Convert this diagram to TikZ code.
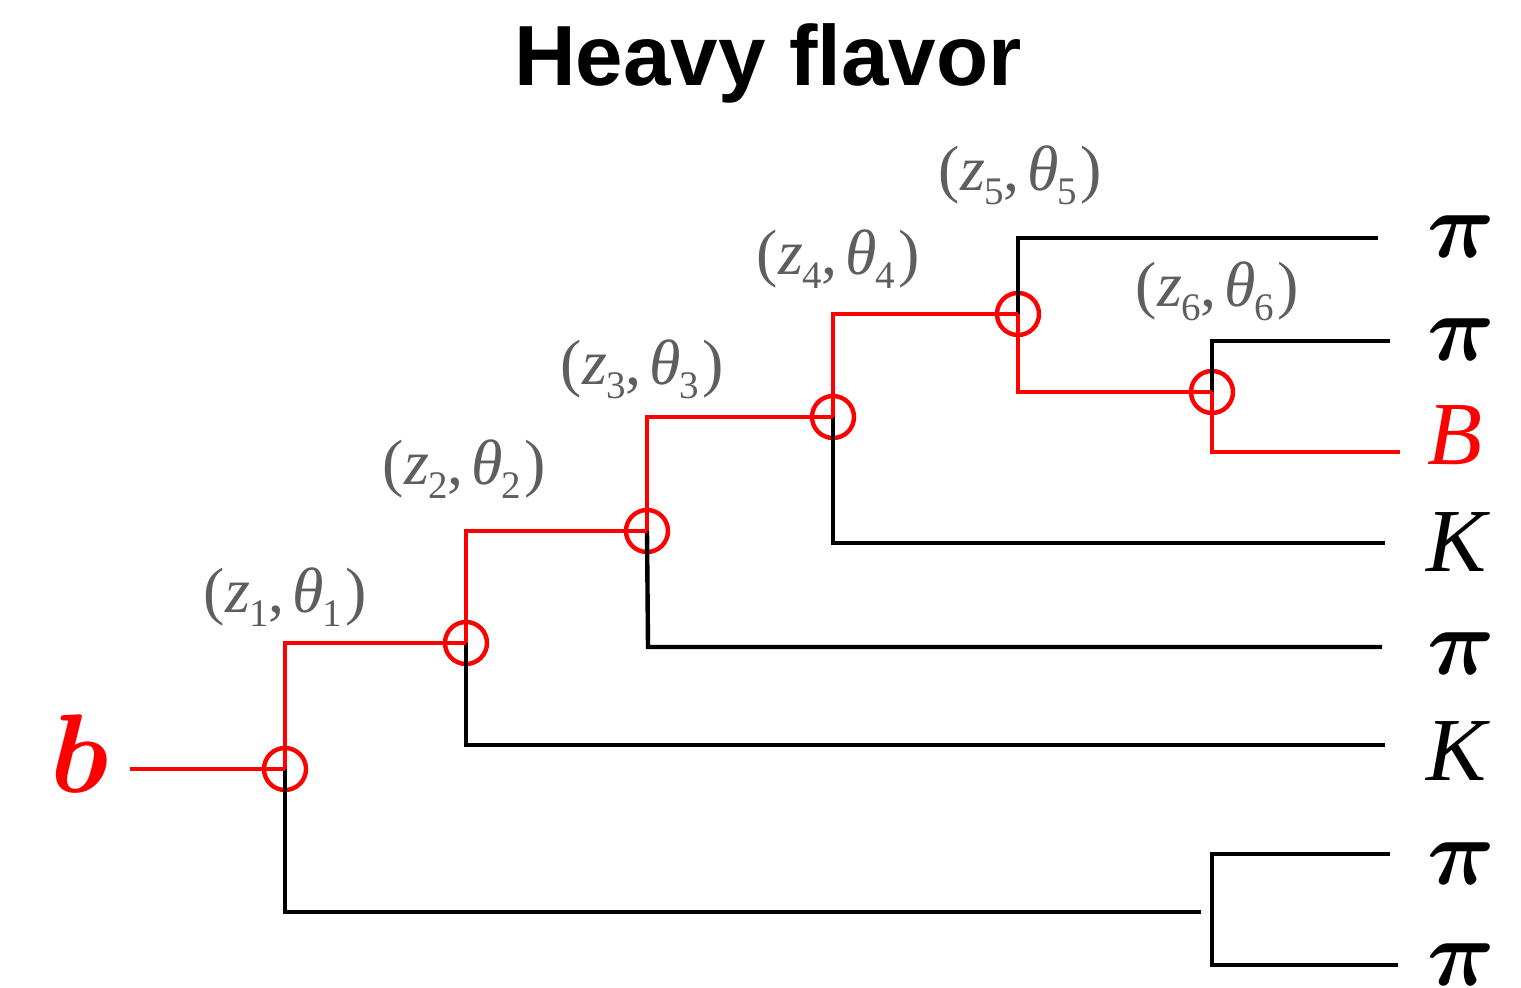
\RequirePackage{fix-cm}
\documentclass[tikz,border=0pt]{standalone}
\usepackage{fontspec}
\usepackage{bm}
\newfontfamily\titlefont{Liberation Sans}
\newfontfamily\kinfont{Liberation Serif}
\definecolor{kingray}{HTML}{5E5E5E}
\definecolor{leadred}{HTML}{FF0000}
% splitting-variable label (z_n, theta_n)
\newcommand{\kinsub}[1]{\kern-0.8pt\raisebox{-7pt}{\fontsize{19.5}{19.5}\selectfont #1}}
\newcommand{\kinlab}[1]{(\kern0.5pt\textit{z}\kinsub{#1},\hspace{4pt}\textit{θ}\kinsub{#1}\kern1.5pt)}
\tikzset{
  branch/.style={line width=2.2pt, black},
  lead/.style={line width=2.2pt, leadred},
  vertex/.style={circle, draw=leadred, line width=2.2pt, minimum size=21pt, inner sep=0pt},
  kin/.style={text=kingray, inner sep=0pt, font=\kinfont\fontsize{32}{32}\selectfont},
  leaf/.style={anchor=base west, inner sep=0pt, font=\kinfont\itshape\fontsize{45}{45}\selectfont},
  pion/.style={anchor=base west, inner sep=0pt, font=\fontsize{47}{47}\selectfont},
}
\begin{document}
\begin{tikzpicture}[x=0.5pt, y=-0.5pt]
\useasboundingbox (0,0) rectangle (1521,988);

% title
\node[anchor=base, inner sep=0pt, font=\titlefont\bfseries\fontsize{42.7}{42.7}\selectfont] (title) at (768,86) {Heavy flavor};

% splitting vertices
\node[vertex] (v1) at (285,769) {};
\node[vertex] (v2) at (466,643) {};
\node[vertex] (v3) at (647,531) {};
\node[vertex] (v4) at (833,417) {};
\node[vertex] (v5) at (1018,314) {};
\node[vertex] (v6) at (1212,392) {};

% end points of the tree
\coordinate (bin) at (130,769);
\coordinate (d1) at (285,912);
\coordinate (d2) at (466,745);
\coordinate (d3) at (648,647);
\coordinate (d4) at (833,543);
\coordinate (u5) at (1018,238);
\coordinate (u6) at (1212,341);
\coordinate (l6) at (1212,452);
\coordinate (e1) at (1201,912);
\coordinate (pt) at (1212,854);
\coordinate (pb) at (1212,965);

% leaf labels
\node[pion] (pi1) at (1427,258) {$\bm{\pi}$};
\node[pion] (pi2) at (1427,361) {$\bm{\pi}$};
\node[leaf, text=leadred] (B) at (1427,465) {B};
\node[leaf] (K1) at (1426,572) {K};
\node[pion] (pi3) at (1427,675) {$\bm{\pi}$};
\node[leaf] (K2) at (1426,780) {K};
\node[pion] (pi4) at (1427,884) {$\bm{\pi}$};
\node[pion] (pi5) at (1427,985) {$\bm{\pi}$};
\node[anchor=base west, inner sep=0pt, text=leadred, font=\fontsize{56}{56}\selectfont] (b) at (50,792) {$\bm{b}$};

% leaf line ends
\coordinate (r1) at (1378,238);
\coordinate (r2) at (1390,341);
\coordinate (rB) at (1400,452);
\coordinate (r3) at (1385,543);
\coordinate (r4) at (1382,647);
\coordinate (r5) at (1385,745);
\coordinate (r6) at (1390,854);
\coordinate (r7) at (1398,965);

% soft branches (black)
\draw[branch] (v1.center) -- (d1) -- (e1);
\draw[branch] (v2.center) -- (d2) -- (r5);
\draw[branch] (v3.center) -- (d3) -- (r4);
\draw[branch] (v4.center) -- (d4) -- (r3);
\draw[branch] (v5.center) -- (u5) -- (r1);
\draw[branch] (v6.center) -- (u6) -- (r2);
\draw[branch] (r6) -- (pt) -- (pb) -- (r7);

% heavy-quark line (red)
\draw[lead] (bin) -- (v1.center);
\draw[lead] (v1.center) |- (v2.center);
\draw[lead] (v2.center) |- (v3.center);
\draw[lead] (v3.center) |- (v4.center);
\draw[lead] (v4.center) |- (v5.center);
\draw[lead] (v5.center) |- (v6.center);
\draw[lead] (v6.center) -- (l6) -- (rB);

% splitting variables
\node[kin] (k1) at (285,597) {\kinlab{1}};
\node[kin] (k2) at (464,469) {\kinlab{2}};
\node[kin] (k3) at (642,369) {\kinlab{3}};
\node[kin] (k4) at (838,259) {\kinlab{4}};
\node[kin] (k5) at (1020,175) {\kinlab{5}};
\node[kin] (k6) at (1217,291) {\kinlab{6}};
\end{tikzpicture}
\end{document}
